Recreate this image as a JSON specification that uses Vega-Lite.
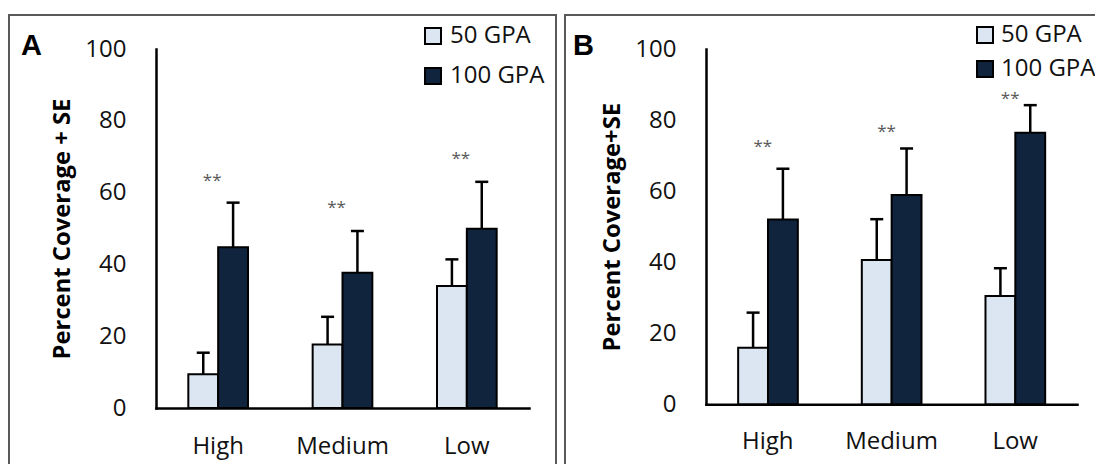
{
  "$schema": "https://vega.github.io/schema/vega-lite/v6.json",
  "background": "white",
  "padding": {"left": 8, "top": 14, "right": 0, "bottom": 0},
  "datasets": {
    "bars": [
      {"panel": "A", "level": "High", "gpa": "50 GPA", "mean": 9.4, "upper": 15.4},
      {"panel": "A", "level": "High", "gpa": "100 GPA", "mean": 44.8, "upper": 57.2},
      {"panel": "A", "level": "Medium", "gpa": "50 GPA", "mean": 17.7, "upper": 25.4},
      {"panel": "A", "level": "Medium", "gpa": "100 GPA", "mean": 37.7, "upper": 49.3},
      {"panel": "A", "level": "Low", "gpa": "50 GPA", "mean": 34.0, "upper": 41.4},
      {"panel": "A", "level": "Low", "gpa": "100 GPA", "mean": 49.9, "upper": 63.0},
      {"panel": "B", "level": "High", "gpa": "50 GPA", "mean": 15.9, "upper": 25.8},
      {"panel": "B", "level": "High", "gpa": "100 GPA", "mean": 52.0, "upper": 66.3},
      {"panel": "B", "level": "Medium", "gpa": "50 GPA", "mean": 40.6, "upper": 52.1},
      {"panel": "B", "level": "Medium", "gpa": "100 GPA", "mean": 58.9, "upper": 72.0},
      {"panel": "B", "level": "Low", "gpa": "50 GPA", "mean": 30.5, "upper": 38.3},
      {"panel": "B", "level": "Low", "gpa": "100 GPA", "mean": 76.4, "upper": 84.2}
    ],
    "stars": [
      {"panel": "A", "level": "High", "star": 64.4},
      {"panel": "A", "level": "Medium", "star": 56.7},
      {"panel": "A", "level": "Low", "star": 70.4},
      {"panel": "B", "level": "High", "star": 73.6},
      {"panel": "B", "level": "Medium", "star": 77.9},
      {"panel": "B", "level": "Low", "star": 87.1}
    ]
  },
  "spacing": 7,
  "hconcat": [
    {
      "width": 547,
      "height": 470,
      "title": {"text": "A", "anchor": "start", "orient": "top", "offset": -46, "dx": 12, "font": "Liberation Sans", "fontWeight": "bold", "fontSize": 29, "color": "#000"},
      "layer": [
        {
          "data": {"name": "bars"},
          "transform": [{"filter": "datum.panel === 'A'"}],
          "mark": {"type": "bar", "stroke": "#000", "strokeWidth": 2},
          "encoding": {
            "x": {
              "field": "level", "type": "nominal", "sort": ["High", "Medium", "Low"],
              "scale": {"range": [147, 520], "paddingInner": 0.52, "paddingOuter": 0.26},
              "axis": {"title": null, "offset": -77, "ticks": false, "domainColor": "#000", "domainWidth": 2.5, "labelFont": "Open Sans", "labelFontSize": 24, "labelColor": "#111", "labelPadding": 26, "labelAngle": 0}
            },
            "xOffset": {"field": "gpa", "type": "nominal", "sort": ["50 GPA", "100 GPA"], "scale": {"paddingInner": 0, "paddingOuter": 0}},
            "y": {
              "field": "mean", "type": "quantitative",
              "scale": {"domain": [0, 100], "range": [393, 34], "nice": false},
              "axis": {"title": "Percent Coverage + SE", "values": [0, 20, 40, 60, 80, 100], "offset": -147, "ticks": false, "grid": false, "domainColor": "#000", "domainWidth": 2.5, "labelFont": "Open Sans", "labelFontSize": 24, "labelColor": "#111", "labelPadding": 30, "titleFont": "Open Sans", "titleFontWeight": "bold", "titleFontSize": 23.8, "titleColor": "#000", "titlePadding": 10}
            },
            "color": {
              "field": "gpa", "type": "nominal", "sort": ["50 GPA", "100 GPA"],
              "scale": {"domain": ["50 GPA", "100 GPA"], "range": ["#dce6f2", "#10243e"]},
              "legend": {"title": null, "orient": "none", "legendX": 412, "legendY": 9, "symbolType": "square", "symbolSize": 256, "symbolStrokeColor": "#000", "symbolStrokeWidth": 2, "symbolOpacity": 1, "labelFont": "Open Sans", "labelFontSize": 24, "labelColor": "#111", "labelOffset": 5, "rowPadding": 16}
            }
          }
        },
        {
          "data": {"name": "bars"},
          "transform": [{"filter": "datum.panel === 'A'"}],
          "mark": {"type": "rule", "stroke": "#000", "strokeWidth": 2.5},
          "encoding": {
            "x": {"field": "level", "type": "nominal", "sort": ["High", "Medium", "Low"]},
            "xOffset": {"field": "gpa", "type": "nominal", "sort": ["50 GPA", "100 GPA"]},
            "y": {"field": "mean", "type": "quantitative"},
            "y2": {"field": "upper"}
          }
        },
        {
          "data": {"name": "bars"},
          "transform": [{"filter": "datum.panel === 'A'"}],
          "mark": {"type": "tick", "color": "#000", "thickness": 2.5, "size": 13, "orient": "horizontal", "opacity": 1},
          "encoding": {
            "x": {"field": "level", "type": "nominal", "sort": ["High", "Medium", "Low"]},
            "xOffset": {"field": "gpa", "type": "nominal", "sort": ["50 GPA", "100 GPA"]},
            "y": {"field": "upper", "type": "quantitative"}
          }
        },
        {
          "data": {"name": "stars"},
          "transform": [{"filter": "datum.panel === 'A'"}],
          "mark": {"type": "text", "text": "**", "font": "Open Sans", "fontSize": 17, "color": "#595959", "baseline": "middle", "dx": -6, "dy": 4},
          "encoding": {
            "x": {"field": "level", "type": "nominal", "sort": ["High", "Medium", "Low"]},
            "y": {"field": "star", "type": "quantitative"}
          }
        }
      ]
    },
    {
      "width": 560,
      "height": 470,
      "title": {"text": "B", "anchor": "start", "orient": "top", "offset": -46, "dx": 8, "font": "Liberation Sans", "fontWeight": "bold", "fontSize": 29, "color": "#000"},
      "layer": [
        {
          "data": {"name": "bars"},
          "transform": [{"filter": "datum.panel === 'B'"}],
          "mark": {"type": "bar", "stroke": "#000", "strokeWidth": 2},
          "encoding": {
            "x": {
              "field": "level", "type": "nominal", "sort": ["High", "Medium", "Low"],
              "scale": {"range": [141, 512], "paddingInner": 0.52, "paddingOuter": 0.26},
              "axis": {"title": null, "offset": -80.7, "ticks": false, "domainColor": "#000", "domainWidth": 2.5, "labelFont": "Open Sans", "labelFontSize": 24, "labelColor": "#111", "labelPadding": 25, "labelAngle": 0}
            },
            "xOffset": {"field": "gpa", "type": "nominal", "sort": ["50 GPA", "100 GPA"], "scale": {"paddingInner": 0, "paddingOuter": 0}},
            "y": {
              "field": "mean", "type": "quantitative",
              "scale": {"domain": [0, 100], "range": [389.3, 34], "nice": false},
              "axis": {"title": "Percent Coverage+SE", "values": [0, 20, 40, 60, 80, 100], "offset": -141, "ticks": false, "grid": false, "domainColor": "#000", "domainWidth": 2.5, "labelFont": "Open Sans", "labelFontSize": 24, "labelColor": "#111", "labelPadding": 30, "titleFont": "Open Sans", "titleFontWeight": "bold", "titleFontSize": 23.8, "titleColor": "#000", "titlePadding": 10}
            },
            "color": {
              "field": "gpa", "type": "nominal", "sort": ["50 GPA", "100 GPA"],
              "scale": {"domain": ["50 GPA", "100 GPA"], "range": ["#dce6f2", "#10243e"]},
              "legend": {"title": null, "orient": "none", "legendX": 408, "legendY": 8, "symbolType": "square", "symbolSize": 256, "symbolStrokeColor": "#000", "symbolStrokeWidth": 2, "symbolOpacity": 1, "labelFont": "Open Sans", "labelFontSize": 24, "labelColor": "#111", "labelOffset": 4, "rowPadding": 10}
            }
          }
        },
        {
          "data": {"name": "bars"},
          "transform": [{"filter": "datum.panel === 'B'"}],
          "mark": {"type": "rule", "stroke": "#000", "strokeWidth": 2.5},
          "encoding": {
            "x": {"field": "level", "type": "nominal", "sort": ["High", "Medium", "Low"]},
            "xOffset": {"field": "gpa", "type": "nominal", "sort": ["50 GPA", "100 GPA"]},
            "y": {"field": "mean", "type": "quantitative"},
            "y2": {"field": "upper"}
          }
        },
        {
          "data": {"name": "bars"},
          "transform": [{"filter": "datum.panel === 'B'"}],
          "mark": {"type": "tick", "color": "#000", "thickness": 2.5, "size": 13, "orient": "horizontal", "opacity": 1},
          "encoding": {
            "x": {"field": "level", "type": "nominal", "sort": ["High", "Medium", "Low"]},
            "xOffset": {"field": "gpa", "type": "nominal", "sort": ["50 GPA", "100 GPA"]},
            "y": {"field": "upper", "type": "quantitative"}
          }
        },
        {
          "data": {"name": "stars"},
          "transform": [{"filter": "datum.panel === 'B'"}],
          "mark": {"type": "text", "text": "**", "font": "Open Sans", "fontSize": 17, "color": "#595959", "baseline": "middle", "dx": -5, "dy": 4},
          "encoding": {
            "x": {"field": "level", "type": "nominal", "sort": ["High", "Medium", "Low"]},
            "y": {"field": "star", "type": "quantitative"}
          }
        }
      ]
    }
  ],
  "resolve": {"scale": {"color": "independent", "x": "independent", "y": "independent"}, "legend": {"color": "independent"}},
  "config": {
    "view": {"stroke": "#595959", "strokeWidth": 2},
    "axis": {"domainCap": "square"}
  }
}
